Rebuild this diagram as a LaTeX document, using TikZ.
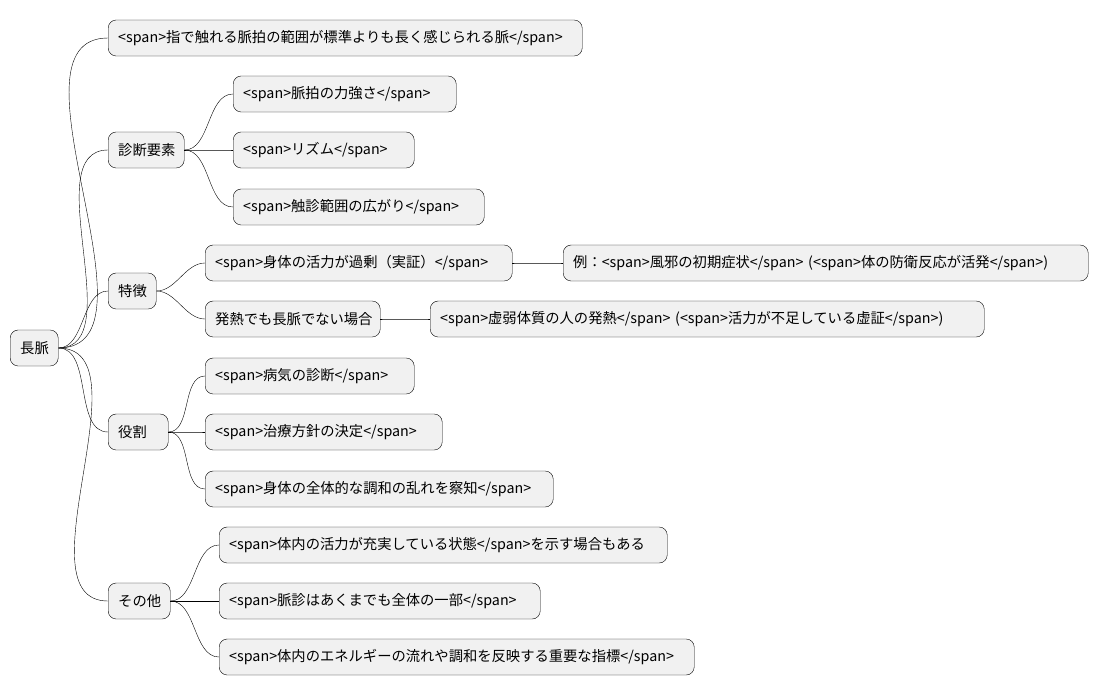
\documentclass[tikz,border=0pt]{standalone}
\usepackage{fontspec}
\setmainfont{Noto Sans CJK JP}
\usetikzlibrary{positioning}
\definecolor{boxfill}{HTML}{F1F1F1}
\begin{document}
\begin{tikzpicture}[x=1pt,y=-1pt]
\tikzstyle{main}=[rectangle, rounded corners=8pt, draw=black, fill=boxfill, anchor=west, minimum height=36pt, inner xsep=10pt, inner ysep=0pt, align=left, font=\fontsize{14.3}{16}\selectfont]
\tikzstyle{connect}=[draw, thin, out=0, in=180, looseness=0.9]
\useasboundingbox (0,0) rectangle (1099,696);
\node[main, text width=28pt] (root) at (10,348) {長脈};
\node[main, text width=454pt] (def) at (108,38) {<span>指で触れる脈拍の範囲が標準よりも長く感じられる脈</span>};
\node[main, text width=56pt] (diag) at (108,150) {診断要素};
\node[main, text width=203pt] (diag1) at (233,94) {<span>脈拍の力強さ</span>};
\node[main, text width=161pt] (diag2) at (233,150) {<span>リズム</span>};
\node[main, text width=231pt] (diag3) at (233,207) {<span>触診範囲の広がり</span>};
\node[main, text width=28pt] (feat) at (108,291) {特徴};
\node[main, text width=287pt] (feat1) at (205,263) {<span>身体の活力が過剰（実証）</span>};
\node[main, text width=505pt] (ex1) at (563,263) {例：<span>風邪の初期症状</span> (<span>体の防衛反応が活発</span>)};
\node[main, text width=155pt] (feat2) at (205,319) {発熱でも長脈でない場合};
\node[main, text width=534pt] (ex2) at (430,319) {<span>虚弱体質の人の発熱</span> (<span>活力が不足している虚証</span>)};
\node[main, text width=40pt] (role) at (108,432) {役割};
\node[main, text width=189pt] (role1) at (205,376) {<span>病気の診断</span>};
\node[main, text width=217pt] (role2) at (205,432) {<span>治療方針の決定</span>};
\node[main, text width=328pt] (role3) at (205,489) {<span>身体の全体的な調和の乱れを察知</span>};
\node[main, text width=42pt] (misc) at (108,601) {その他};
\node[main, text width=428pt] (misc1) at (219,545) {<span>体内の活力が充実している状態</span>を示す場合もある};
\node[main, text width=301pt] (misc2) at (219,601) {<span>脈診はあくまでも全体の一部</span>};
\node[main, text width=455pt] (misc3) at (219,657) {<span>体内のエネルギーの流れや調和を反映する重要な指標</span>};
\foreach \to in {def,diag,feat,role,misc}
  \path (root.east) edge[connect] (\to.west);
\foreach \to in {diag1,diag2,diag3}
  \path (diag.east) edge[connect] (\to.west);
\foreach \to in {feat1,feat2}
  \path (feat.east) edge[connect] (\to.west);
\path (feat1.east) edge[connect] (ex1.west)
      (feat2.east) edge[connect] (ex2.west);
\foreach \to in {role1,role2,role3}
  \path (role.east) edge[connect] (\to.west);
\foreach \to in {misc1,misc2,misc3}
  \path (misc.east) edge[connect] (\to.west);
\end{tikzpicture}
\end{document}
